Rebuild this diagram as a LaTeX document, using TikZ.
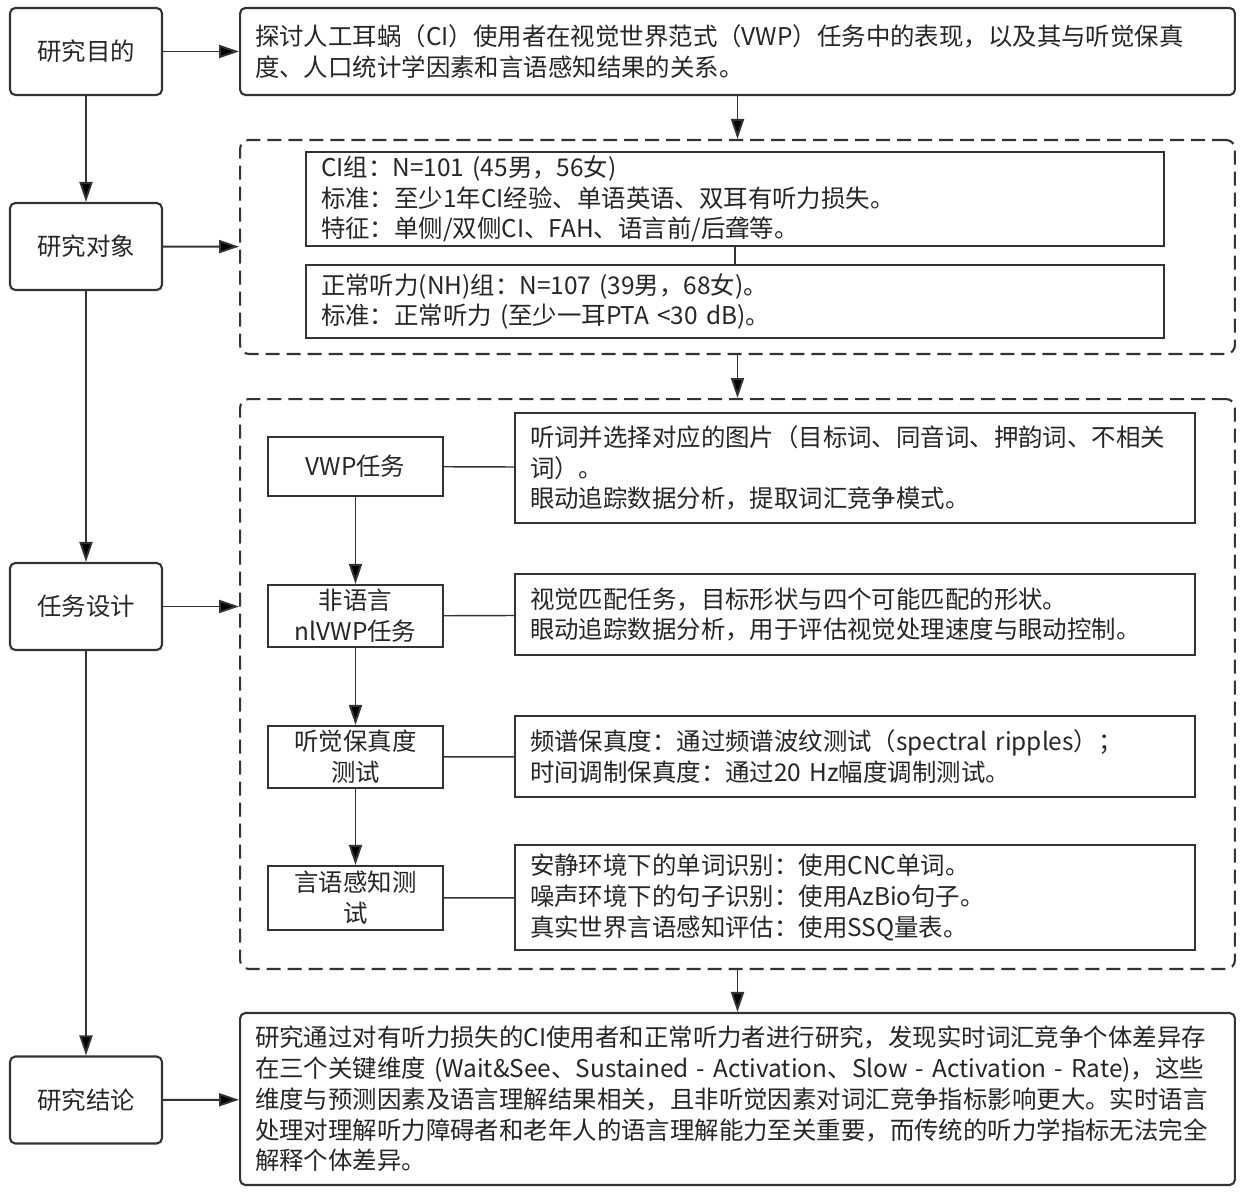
\documentclass[tikz,border=0pt]{standalone}
\usepackage{fontspec}
\setmainfont{Noto Sans CJK SC}
\usepackage{xcolor}
\usepackage{tikz}
\usetikzlibrary{positioning,arrows.meta}
\definecolor{linegray}{HTML}{333333}
\tikzset{base font/.style={font=\fontsize{13.9pt}{17.5pt}\selectfont,text=black!85},
  head node/.style={base font,draw=linegray,line width=1.2pt,rounded corners=3pt,minimum width=3.04cm,minimum height=1.74cm,inner sep=0pt},
  text box/.style={base font,draw=linegray,line width=1.2pt,inner xsep=0.3cm,inner ysep=0pt,align=left},
  group box/.style={draw=linegray,line width=1.2pt,dash pattern=on 0.28cm off 0.14cm,rounded corners=5pt,minimum width=19.9cm,inner sep=0pt},
  task node/.style={base font,draw=linegray,line width=1.2pt,minimum width=3.5cm,inner sep=0pt,align=center},
  arrow line/.style={draw=linegray,line width=1.1pt},
  link line/.style={draw=linegray,line width=0.8pt},
  >={Triangle[length=0.4cm,width=0.26cm]},}

\begin{document}
\begin{tikzpicture}[x=0.02cm,y=-0.02cm]
    \useasboundingbox[fill=white] (0,0) rectangle (1250,1192);

    \node[head node] (aim) at (86,51.5) {研究目的};
    \node[head node] (subj) at (86,246.5) {研究对象};
    \node[head node] (design) at (86,606.5) {任务设计};
    \node[head node] (concl) at (86,1100) {研究结论};

    \node[text box,rounded corners=3pt,text width=19.3cm,minimum height=1.74cm] (aimtxt) at (737.5,51.5)
    {探讨人工耳蜗（CI）使用者在视觉世界范式（VWP）任务中的表现，以及其与听觉保真\\
    度、人口统计学因素和言语感知结果的关系。};

    \node[group box,minimum height=4.28cm] (grp1) at (737.5,247) {};
    \node[text box,text width=16.56cm,minimum height=1.88cm] (ci) at (735,199)
    {CI组：N=101 (45男，56女)\\
    标准：至少1年CI经验、单语英语、双耳有听力损失。\\
    特征：单侧/双侧CI、FAH、语言前/后聋等。};
    \node[text box,text width=16.56cm,minimum height=1.46cm] (nh) at (735,301.5)
    {正常听力(NH)组：N=107 (39男，68女)。\\
    标准：正常听力 (至少一耳PTA <30 dB)。};

    \node[group box,minimum height=11.4cm] (grp2) at (737.5,684) {};
    \coordinate (grp2in) at (design.east -| grp2.west);
    \node[task node,minimum height=1.18cm] (vwp) at (355.5,466.5) {VWP任务};
    \node[task node,minimum height=1.24cm] (nlvwp) at (355.5,616) {非语言\\nlVWP任务};
    \node[task node,minimum height=1.24cm] (fid) at (355.5,757) {听觉保真度\\测试};
    \node[task node,minimum height=1.28cm] (speech) at (355.5,898) {言语感知测\\试};

    \node[text box,text width=13cm,minimum height=2.2cm] (vwpd) at (855,468)
    {听词并选择对应的图片（目标词、同音词、押韵词、不相关\\
    词）。\\
    眼动追踪数据分析，提取词汇竞争模式。};
    \node[text box,text width=13cm,minimum height=1.62cm] (nlvwpd) at (855,614.5)
    {视觉匹配任务，目标形状与四个可能匹配的形状。\\
    眼动追踪数据分析，用于评估视觉处理速度与眼动控制。};
    \node[text box,text width=13cm,minimum height=1.62cm] (fidd) at (855,756.5)
    {频谱保真度：通过频谱波纹测试（spectral~ripples）；\\
    时间调制保真度：通过20~Hz幅度调制测试。};
    \node[text box,text width=13cm,minimum height=2.1cm] (speechd) at (855,897.5)
    {安静环境下的单词识别：使用CNC单词。\\
    噪声环境下的句子识别：使用AzBio句子。\\
    真实世界言语感知评估：使用SSQ量表。};

    \node[text box,rounded corners=3pt,text width=19.3cm,minimum height=3.44cm] (concltxt) at (737.5,1099)
    {研究通过对有听力损失的CI使用者和正常听力者进行研究，发现实时词汇竞争个体差异存\\
    在三个关键维度~(Wait\&See、Sustained~-~Activation、Slow~-~Activation~-~Rate)，这些\\
    维度与预测因素及语言理解结果相关，且非听觉因素对词汇竞争指标影响更大。实时语言\\
    处理对理解听力障碍者和老年人的语言理解能力至关重要，而传统的听力学指标无法完全\\
    解释个体差异。};

    \path[arrow line,->]
    (aim) edge (subj)
    (subj) edge (design)
    (design) edge (concl)
    (aim) edge (aimtxt)
    (subj) edge (grp1)
    (design) edge (grp2in)
    (concl) edge (concltxt)
    (aimtxt) edge (grp1)
    (grp1) edge (grp2)
    (grp2) edge (concltxt)
    (vwp) edge (nlvwp)
    (nlvwp) edge (fid)
    (fid) edge (speech)
    ;

    \path[link line]
    (ci) edge (nh)
    (vwp) edge (vwpd)
    (nlvwp) edge (nlvwpd)
    (fid) edge (fidd)
    (speech) edge (speechd)
    ;
\end{tikzpicture}
\end{document}
